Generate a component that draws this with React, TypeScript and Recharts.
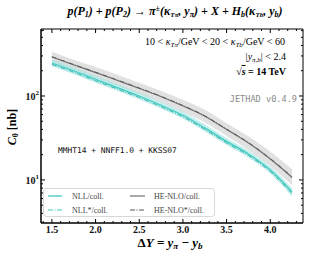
import React from 'react';
import { ComposedChart, Area, Line, XAxis, YAxis, ReferenceArea, ReferenceLine } from 'recharts';

// rapidity separation
const deltaY = [1.5, 1.75, 2.0, 2.25, 2.5, 2.75, 3.0, 3.25, 3.5, 3.75, 4.0, 4.25];

// C0 [nb]
const nll = [247, 200, 158, 126, 100, 77.6, 58.9, 41.7, 28.8, 20.4, 13.2, 7.2];
const nllStar = [238, 192, 152, 121, 96, 74.5, 56.5, 40, 27.6, 19.6, 12.6, 6.85];
const nllLo = [226, 182, 144, 115, 91, 70.5, 53.5, 37.8, 26.1, 18.4, 11.9, 6.3];
const nllHi = [272, 220, 174, 139, 110, 85, 65, 46, 31.6, 22.4, 14.5, 8.0];

const heNlo = [291, 234, 190, 153, 123, 98, 76, 57.5, 39.8, 27.5, 17.8, 10.7];
const heNloStar = [294, 237, 192, 155, 124.5, 99, 77, 58.2, 40.3, 27.9, 18.0, 10.9];
const heNloLo = [256, 205, 165, 132, 106, 84, 64.5, 48.5, 33.3, 22.8, 14.6, 8.7];
const heNloHi = [336, 271, 221, 179, 144, 115, 90, 68.5, 47.5, 33.2, 21.8, 13.4];

const xMajor = [1.5, 2.0, 2.5, 3.0, 3.5, 4.0];
const xTicks = [1.4, 1.5, 1.6, 1.7, 1.8, 1.9, 2.0, 2.1, 2.2, 2.3, 2.4, 2.5, 2.6, 2.7, 2.8, 2.9, 3.0,
  3.1, 3.2, 3.3, 3.4, 3.5, 3.6, 3.7, 3.8, 3.9, 4.0, 4.1, 4.2, 4.3];
const yMajor = [10, 100];
const yTicks = [4, 5, 6, 7, 8, 9, 10, 20, 30, 40, 50, 60, 70, 80, 90, 100, 200, 300, 400, 500, 600];

const xDomain = [1.375, 4.375];
const yDomain = [3.07, 628];

const data = deltaY.map((x, i) => ({
  x,
  nll: nll[i],
  nllStar: nllStar[i],
  nllBand: [nllLo[i], nllHi[i]],
  heNlo: heNlo[i],
  heNloStar: heNloStar[i],
  heBand: [heNloLo[i], heNloHi[i]],
}));

const TEAL = '#3fcbc3';
const GRAY = '#7a7a7a';
const serif = 'serif';
const mono = 'monospace';
const isMajorX = (v: number) => xMajor.some(m => Math.abs(m - v) < 1e-6);

// inward ticks, matplotlib style
const XTick = (props: any) => {
  const { x, y, payload } = props;
  const v = payload.value;
  const len = isMajorX(v) ? 4 : 2;
  return (
    <g>
      <line x1={x} x2={x} y1={y} y2={y - len} stroke="#000" />
      {isMajorX(v) && (
        <text x={x} y={y + 10} textAnchor="middle" fontSize={10} fontWeight={700} fill="#111">{v.toFixed(1)}</text>
      )}
    </g>
  );
};

const YTick = (props: any) => {
  const { x, y, payload } = props;
  const v = payload.value;
  const major = yMajor.includes(v);
  return (
    <g>
      <line x1={x} x2={x + (major ? 4 : 2)} y1={y} y2={y} stroke="#000" />
      {major && (
        <text x={x - 2} y={y + 4} textAnchor="end" fontSize={10} fontWeight={700} fill="#111">
          10<tspan dy={-5} fontSize={7}>{Math.round(Math.log10(v))}</tspan>
        </text>
      )}
    </g>
  );
};

// tick lengths on the top / right frame, in data units (≈87.3 px per unit in x, 84 px per decade in y)
const topTickEnd = (major: boolean) => yDomain[1] / Math.pow(10, (major ? 4 : 2) / 84);
const rightTickEnd = (major: boolean) => xDomain[1] - (major ? 4 : 2) / 87.3;

export default function App() {
  return (
    <div style={{ position: 'absolute', left: 0, top: 0, width: 314, height: 254, background: '#fff' }}>
      <ComposedChart width={314} height={254} data={data} margin={{ top: 29, right: 11, bottom: 1, left: 0 }}>
        <XAxis dataKey="x" type="number" domain={xDomain} allowDataOverflow
          ticks={xTicks} interval={0} tickSize={0} tickMargin={0} height={30}
          stroke="#000" tick={<XTick />} />
        <YAxis scale="log" type="number" domain={yDomain} allowDataOverflow
          ticks={yTicks} interval={0} tickSize={0} tickMargin={0} width={41}
          stroke="#000" tick={<YTick />} />

        <Area dataKey="heBand" type="monotone" fill="#cdcdcd" stroke="none" isAnimationActive={false} />
        <Area dataKey="nllBand" type="monotone" fill="#9fe5e1" stroke="none" isAnimationActive={false} />
        <Line dataKey="heNlo" type="monotone" stroke={GRAY} strokeWidth={1.2}
          dot={false} isAnimationActive={false} />
        <Line dataKey="heNloStar" type="monotone" stroke="#555" strokeDasharray="5 1.5 1 1.5"
          dot={false} isAnimationActive={false} />
        <Line dataKey="nll" type="monotone" stroke={TEAL} strokeWidth={1.2}
          dot={false} isAnimationActive={false} />
        <Line dataKey="nllStar" type="monotone" stroke="#2fb3ab" strokeDasharray="5 1.5 1 1.5"
          dot={false} isAnimationActive={false} />

        <ReferenceArea x1={xDomain[0]} x2={xDomain[1]} y1={yDomain[0]} y2={yDomain[1]}
          fill="none" stroke="#000" />
        {xTicks.map(v => (
          <ReferenceLine key={'t' + v} segment={[{ x: v, y: yDomain[1] }, { x: v, y: topTickEnd(isMajorX(v)) }]}
            stroke="#000" />
        ))}
        {yTicks.map(v => (
          <ReferenceLine key={'r' + v} segment={[{ x: xDomain[1], y: v }, { x: rightTickEnd(yMajor.includes(v)), y: v }]}
            stroke="#000" />
        ))}

        <g className="annotations">
          {/* title */}
          <text x={175} y={15} textAnchor="middle" fontFamily={serif} fontWeight={700} fontStyle="italic" fontSize={12}>
            p(P<tspan fontSize={8} dy={2}>1</tspan><tspan dy={-2}>) + p(P</tspan><tspan fontSize={8} dy={2}>2</tspan>
            <tspan dy={-2}>) → π</tspan><tspan fontSize={8} dy={-4}>±</tspan><tspan dy={4}>(κ</tspan>
            <tspan fontSize={7} dy={2}>Tπ</tspan><tspan dy={-2}>, y</tspan><tspan fontSize={8} dy={2}>π</tspan>
            <tspan dy={-2}>) + X + H</tspan><tspan fontSize={8} dy={2}>b</tspan><tspan dy={-2}>(κ</tspan>
            <tspan fontSize={7} dy={2}>Tb</tspan><tspan dy={-2}>, y</tspan><tspan fontSize={8} dy={2}>b</tspan>
            <tspan dy={-2}>)</tspan>
          </text>

          {/* cuts */}
          <text x={285} y={45} textAnchor="end" fontFamily={serif} fontSize={10}>
            10 &lt; <tspan fontStyle="italic">κ</tspan><tspan fontSize={7} dy={2} fontStyle="italic">Tπ</tspan>
            <tspan dy={-2}>/GeV &lt; 20 &lt; </tspan><tspan fontStyle="italic">κ</tspan>
            <tspan fontSize={7} dy={2} fontStyle="italic">Tb</tspan><tspan dy={-2}>/GeV &lt; 60</tspan>
          </text>
          <text x={286} y={60} textAnchor="end" fontFamily={serif} fontSize={10}>
            |<tspan fontStyle="italic">y</tspan><tspan fontSize={7} dy={2} fontStyle="italic">π,b</tspan>
            <tspan dy={-2}>| &lt; 2.4</tspan>
          </text>
          <text x={286} y={75} textAnchor="end" fontFamily={serif} fontSize={10} fontWeight={700}>
            √<tspan fontStyle="italic" textDecoration="overline">s</tspan> = 14 TeV
          </text>
          <text x={297} y={102} textAnchor="end" fontFamily={mono} fontSize={8.6} fill="#8a8a8a">JETHAD v0.4.9</text>
          <text x={58} y={153} fontFamily={mono} fontSize={7.9} fill="#111">MMHT14 + NNFF1.0 + KKSS07</text>

          {/* legend */}
          <rect x={43.5} y={188.5} width={171} height={28} rx={3} fill="#fff" stroke="#d8d8d8" />
          <line x1={48} x2={62} y1={196} y2={196} stroke={TEAL} strokeWidth={1.3} />
          <text x={72} y={199} fontFamily={serif} fontSize={8} fill="#444">NLL/coll.</text>
          <line x1={48} x2={62} y1={210} y2={210} stroke={TEAL} strokeDasharray="5 1.5 1 1.5" />
          <text x={72} y={213} fontFamily={serif} fontSize={8} fill="#444">NLL*/coll.</text>
          <line x1={130} x2={145} y1={196} y2={196} stroke={GRAY} strokeWidth={1.3} />
          <text x={154} y={199} fontFamily={serif} fontSize={8} fill="#444">HE-NLO/coll.</text>
          <line x1={130} x2={145} y1={210} y2={210} stroke="#555" strokeDasharray="5 1.5 1 1.5" />
          <text x={154} y={213} fontFamily={serif} fontSize={8} fill="#444">HE-NLO*/coll.</text>

          {/* axis labels */}
          <text x={170} y={247} textAnchor="middle" fontFamily={serif} fontSize={13} fontWeight={700}>
            Δ<tspan fontStyle="italic">Y</tspan> = <tspan fontStyle="italic">y</tspan>
            <tspan fontSize={9} dy={2} fontStyle="italic">π</tspan><tspan dy={-2}> − </tspan>
            <tspan fontStyle="italic">y</tspan><tspan fontSize={9} dy={2} fontStyle="italic">b</tspan>
          </text>
          <text transform="translate(16,127) rotate(-90)" textAnchor="middle" fontFamily={serif} fontSize={12} fontWeight={700}>
            <tspan fontStyle="italic">C</tspan><tspan fontSize={8} dy={2}>0</tspan><tspan dy={-2}> [nb]</tspan>
          </text>
        </g>
      </ComposedChart>
    </div>
  );
}
